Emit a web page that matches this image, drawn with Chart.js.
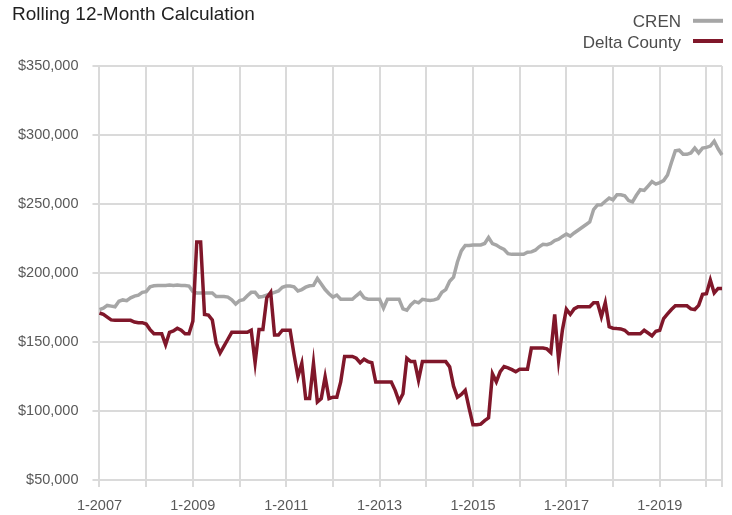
<!DOCTYPE html>
<html>
<head>
<meta charset="utf-8">
<script src="https://cdn.jsdelivr.net/npm/chart.js@4/dist/chart.umd.min.js"></script>
<style>
  body { margin: 0; background: #fff; }
  #wrap { width: 732px; height: 515px; }
</style>
</head>
<body>
<div id="wrap"><canvas id="graph_ID" width="732" height="515"></canvas></div>
<script>
var titre = 'Rolling 12-Month Calculation';
var firstYear = 2007;

// monthly values, 1-2007 .. 5-2020
var cren = [
  173500, 174500, 176500, 176000, 175500, 179500, 180500, 180000, 182000, 183300, 184000, 186000,
  186500, 190000, 190700, 191000, 191000, 191000, 191300, 191000, 191300, 191000, 191000, 190500,
  186500, 185500, 185500, 185500, 185500, 185500, 183000, 183000, 183000, 182500, 180500, 177500,
  180000, 180600, 183500, 186000, 186000, 182600, 183000, 184000, 185000, 186000, 187000, 189700,
  190500, 190500, 190000, 187000, 188000, 189700, 190700, 191000, 196000, 192000, 188000, 185000,
  182500, 184000, 181000, 181000, 181000, 181000, 183500, 185800, 182000, 181000, 181000, 181000,
  181000, 174500, 181000, 181000, 181000, 181000, 174000, 173000, 176800, 179400, 178400, 180900,
  180400, 180100, 180500, 181500, 186000, 188000, 194000, 197000, 208000, 216000, 220000, 220000,
  220300, 220300, 220300, 221400, 225700, 221300, 220300, 218400, 217000, 214000, 213500, 213500,
  213500, 213500, 215000, 215300, 216500, 219000, 220800, 220500, 221500, 223500, 224500, 226500,
  228200, 226700, 229000, 231000, 233000, 235000, 237000, 246000, 249300, 249500, 252000, 254300,
  253000, 256700, 256700, 256000, 252500, 251500, 256300, 260300, 259800, 263000, 266300, 264400,
  265500, 267000, 271000, 280000, 288500, 289000, 286000, 286000, 287000, 290500, 287000, 290500,
  291000, 292000, 295500, 290000, 285500
];

var delta = [
  171000, 170000, 168000, 166000, 165700, 165700, 165700, 165700, 165700, 164500, 164000, 164000,
  163000, 159000, 156000, 156000, 156000, 148000, 157000, 158000, 160000, 158500, 156000, 156000,
  165000, 222500, 222500, 170000, 169500, 166000, 149000, 142000, 147000, 152000, 157000, 157000,
  157000, 157000, 157000, 158500, 135000, 159000, 159000, 182000, 186000, 155000, 155000, 158500,
  158500, 158500, 141000, 125000, 134500, 109000, 109000, 134500, 106500, 109000, 124800, 109000,
  110000, 110000, 121000, 139500, 139500, 139500, 138200, 135000, 137500, 135800, 135000, 121000,
  121000, 121000, 121000, 121000, 115000, 107000, 112500, 138200, 135800, 135800, 122300, 135800,
  135800, 135800, 135800, 135800, 135800, 135800, 132000, 118000, 110000, 112000, 115000, 102000,
  90000, 90000, 90500, 93000, 95000, 127000, 121200, 128500, 132200, 131300, 130000, 128500,
  130200, 130200, 130200, 145600, 145600, 145600, 145600, 145000, 142400, 170000, 137000, 159000,
  173700, 170000, 174000, 175600, 175600, 175600, 175600, 178500, 178500, 168300, 178500, 161000,
  160000, 159700, 159500, 158500, 156000, 156000, 156000, 156000, 158500, 156500, 154500, 157800,
  158500, 167000, 170300, 173500, 176200, 176200, 176200, 176200, 174000, 173500, 176500, 184500,
  185000, 194900, 185500, 188800, 188800
];

var months = [];
for (var i = 0; i < cren.length; i++) {
  months.push((i % 12 + 1) + '-' + (firstYear + Math.floor(i / 12)));
}

var gris = '#a6a6a6';
var rouge = '#80172a';
var grille = '#dadada';
var police = '"Liberation Sans", Arial, sans-serif';

// title + legend (text left of the line sample, stacked, top right)
var entete = {
  id: 'entete',
  afterDraw: function(chart) {
    var ctx = chart.ctx;
    ctx.save();
    ctx.textBaseline = 'alphabetic';
    ctx.fillStyle = '#1f1f1f';
    ctx.font = '19px ' + police;
    ctx.textAlign = 'left';
    ctx.fillText(titre, 12, 19.5);

    ctx.font = '17px ' + police;
    ctx.textAlign = 'right';
    var rows = [27.3, 47.5];
    chart.data.datasets.forEach(function(ds, k) {
      ctx.fillStyle = '#4d4d4d';
      ctx.fillText(ds.label, 681, rows[k]);
      ctx.strokeStyle = ds.borderColor;
      ctx.lineWidth = 4;
      ctx.beginPath();
      ctx.moveTo(693, rows[k] - 6.5);
      ctx.lineTo(723, rows[k] - 6.5);
      ctx.stroke();
    });
    ctx.restore();
  }
};

var last = cren.length - 1;

var options = {
  responsive: false,
  animation: false,
  devicePixelRatio: 1,
  layout: { padding: { top: 66, left: 4, right: 10, bottom: 0 } },
  plugins: {
    legend: { display: false },
    title: { display: false },
    tooltip: { enabled: false }
  },
  scales: {
    x: {
      type: 'category',
      afterFit: function(scale) { scale.height = 35; },
      grid: {
        color: grille,
        lineWidth: 2,
        tickLength: 7,
        tickColor: function(c) { return c.index === last ? 'rgba(0,0,0,0)' : grille; }
      },
      border: { color: grille, width: 2 },
      ticks: {
        autoSkip: false,
        maxRotation: 0,
        minRotation: 0,
        padding: 10,
        color: '#595959',
        font: { family: police, size: 14.5 },
        callback: function(v, i) {
          if (i === last) return '';
          if (i % 24 === 0) return months[i];
          if (i % 12 === 0) return '';
          return null;
        }
      }
    },
    y: {
      min: 50000,
      max: 350000,
      grid: { color: grille, lineWidth: 2, tickLength: 7 },
      border: { color: grille, width: 2 },
      ticks: {
        stepSize: 50000,
        padding: 14,
        color: '#595959',
        font: { family: police, size: 14.5 },
        callback: function(v) { return '$' + v.toLocaleString('en-US'); }
      }
    }
  }
};

var graphique = new Chart(document.getElementById('graph_ID').getContext('2d'), {
  type: 'line',
  data: {
    labels: months,
    datasets: [
      { label: 'CREN', data: cren, borderColor: gris, backgroundColor: gris, borderWidth: 3.5, pointRadius: 0, order: 1 },
      { label: 'Delta County', data: delta, borderColor: rouge, backgroundColor: rouge, borderWidth: 3.5, pointRadius: 0, order: 0 }
    ]
  },
  options: options,
  plugins: [entete]
});
</script>
</body>
</html>
